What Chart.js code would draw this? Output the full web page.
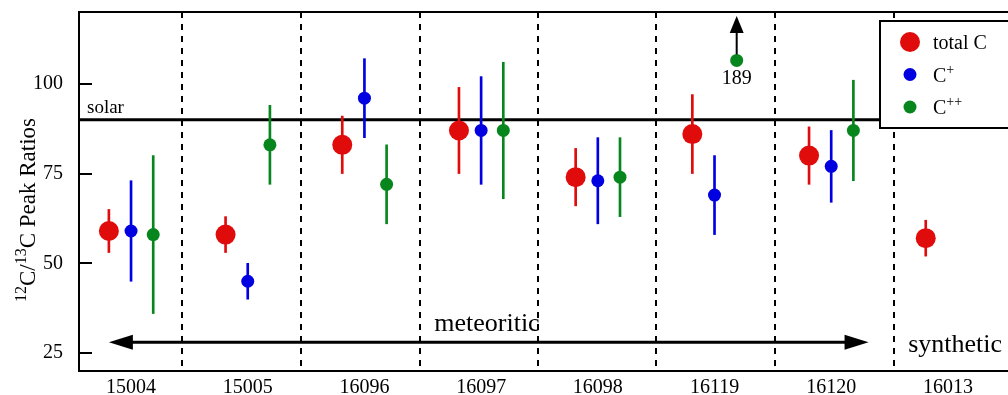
<!DOCTYPE html>
<html><head><meta charset="utf-8">
<script src="https://cdn.jsdelivr.net/npm/chart.js@4/dist/chart.umd.min.js"></script>
<style>html,body{margin:0;padding:0;background:#fff;overflow:hidden}canvas{display:block}</style>
</head><body>
<canvas id="c" width="1008" height="395"></canvas>
<script>
// ---- data ----
const categories = ['15004','15005','16096','16097','16098','16119','16120','16013'];
const yTicks = [25, 50, 75, 100];
const solarRatio = 90;
// dividers between samples, in category units
const dividers = [0.44, 1.46, 2.48, 3.49, 4.5, 5.52, 6.54];

const totalC     = [59, 58, 83, 87, 74, 86, 80, 57];
const totalCLow  = [53, 53, 75, 75, 66, 75, 72, 52];
const totalCHigh = [65, 63, 91, 99, 82, 97, 88, 62];

const cPlus      = [59, 45, 96, 87, 73, 69, 77, null];
const cPlusLow   = [45, 40, 85, 72, 61, 58, 67, null];
const cPlusHigh  = [73, 50, 107, 102, 85, 80, 87, null];

const cPlusPlus     = [58, 83, 72, 87, 74, 106.5, 87, null];
const cPlusPlusLow  = [36, 72, 61, 68, 63, null, 73, null];
const cPlusPlusHigh = [80, 94, 83, 106, 85, null, 101, null];
// off-scale C++ value for 16119 (drawn at the top with an arrow)
const offScaleIndex = 5;
const offScaleValue = 189;

const meteoriticRange = [-0.19, 6.32];
const meteoriticY = 28;

// ---- styling ----
const RED = '#e00c0c', BLUE = '#0000e0', GREEN = '#07861d';
const SERIF = '"Liberation Serif", "Times New Roman", serif';
const series = [
  {name:'total C', vals: totalC, lo: totalCLow, hi: totalCHigh, color: RED, dx: -0.19, r: 10},
  {name:'C+', vals: cPlus, lo: cPlusLow, hi: cPlusHigh, color: BLUE, dx: 0, r: 6.5},
  {name:'C++', vals: cPlusPlus, lo: cPlusPlusLow, hi: cPlusPlusHigh, color: GREEN, dx: 0.19, r: 6.5},
];

const datasets = [];
series.forEach(s => {
  datasets.push({
    type: 'bar', label: s.name + ' err', order: 2,
    data: s.vals.map((v, i) => (s.lo[i] == null ? null : {x: i + s.dx, y: [s.lo[i], s.hi[i]]})).filter(d => d),
    backgroundColor: s.color, borderWidth: 0, barThickness: 2, grouped: false
  });
  datasets.push({
    type: 'scatter', label: s.name, order: 0,
    data: s.vals.map((v, i) => (v == null ? null : {x: i + s.dx, y: v})).filter(d => d),
    backgroundColor: s.color, borderWidth: 0, pointRadius: s.r, pointHoverRadius: s.r
  });
});

function arrowHead(ctx, tx, ty, dirx, diry, len, half) {
  const bx = tx - dirx * len, by = ty - diry * len;
  ctx.beginPath();
  ctx.moveTo(tx, ty);
  ctx.lineTo(bx - diry * half, by + dirx * half);
  ctx.lineTo(bx + diry * half, by - dirx * half);
  ctx.closePath();
  ctx.fill();
}

function drawRich(ctx, parts, x, y, align) {
  let w = 0;
  parts.forEach(p => { ctx.font = p.font; w += ctx.measureText(p.t).width; });
  let cx = align === 'center' ? x - w / 2 : x;
  parts.forEach(p => {
    ctx.font = p.font;
    ctx.fillText(p.t, cx, y + (p.dy || 0));
    cx += ctx.measureText(p.t).width;
  });
}

const deco = {
  id: 'deco',
  beforeDatasetsDraw(chart) {
    const {ctx, chartArea: a, scales: {x, y}} = chart;
    ctx.save();
    ctx.strokeStyle = '#000'; ctx.fillStyle = '#000';
    // dashed dividers
    ctx.lineWidth = 2; ctx.setLineDash([6, 6]);
    dividers.forEach(v => {
      const px = Math.round(x.getPixelForValue(v));
      ctx.beginPath(); ctx.moveTo(px, a.top); ctx.lineTo(px, a.bottom); ctx.stroke();
    });
    ctx.setLineDash([]);
    // top frame line
    ctx.lineWidth = 2;
    ctx.beginPath(); ctx.moveTo(a.left, a.top); ctx.lineTo(a.right, a.top); ctx.stroke();
    // inward y ticks
    yTicks.forEach(v => {
      const py = Math.round(y.getPixelForValue(v));
      ctx.beginPath(); ctx.moveTo(a.left, py); ctx.lineTo(a.left + 13, py); ctx.stroke();
    });
    // solar line
    const sy = y.getPixelForValue(solarRatio);
    ctx.lineWidth = 3;
    ctx.beginPath(); ctx.moveTo(a.left, sy); ctx.lineTo(a.right, sy); ctx.stroke();
    ctx.font = '19px ' + SERIF; ctx.textAlign = 'left'; ctx.textBaseline = 'alphabetic';
    ctx.fillText('solar', a.left + 8, sy - 7);
    // meteoritic arrow
    const my = y.getPixelForValue(meteoriticY);
    const x0 = x.getPixelForValue(meteoriticRange[0]), x1 = x.getPixelForValue(meteoriticRange[1]);
    ctx.lineWidth = 3;
    ctx.beginPath(); ctx.moveTo(x0 + 10, my); ctx.lineTo(x1 - 10, my); ctx.stroke();
    arrowHead(ctx, x0, my, -1, 0, 24, 7.5);
    arrowHead(ctx, x1, my, 1, 0, 24, 7.5);
    ctx.font = '26px ' + SERIF; ctx.textAlign = 'center';
    ctx.fillText('meteoritic', x.getPixelForValue(3.05), y.getPixelForValue(31.2));
    ctx.textAlign = 'left';
    ctx.fillText('synthetic', x.getPixelForValue(6.66), y.getPixelForValue(25.3));
    ctx.restore();
  },
  afterDatasetsDraw(chart) {
    const {ctx, chartArea: a, scales: {x, y}} = chart;
    ctx.save();
    ctx.fillStyle = '#000'; ctx.strokeStyle = '#000';
    // off-scale arrow
    const ox = x.getPixelForValue(offScaleIndex + 0.19);
    const oy = y.getPixelForValue(cPlusPlus[offScaleIndex]);
    const tipY = a.top + 4;
    ctx.lineWidth = 2;
    ctx.beginPath(); ctx.moveTo(ox, oy - 6); ctx.lineTo(ox, tipY + 12); ctx.stroke();
    arrowHead(ctx, ox, tipY, 0, -1, 17, 7);
    ctx.font = '20px ' + SERIF; ctx.textAlign = 'center'; ctx.textBaseline = 'alphabetic';
    ctx.fillText(String(offScaleValue), ox, oy + 24);

    // legend box
    const lx = a.right - 128, ly = a.top + 9;
    ctx.fillStyle = '#fff';
    ctx.fillRect(lx, ly, 140, 107);
    ctx.lineWidth = 2;
    ctx.strokeRect(lx, ly, 140, 107);
    const rows = [
      {c: RED, r: 10, parts: [{t: 'total C', font: '20px ' + SERIF}]},
      {c: BLUE, r: 6.5, parts: [{t: 'C', font: '20px ' + SERIF}, {t: '+', font: '14px ' + SERIF, dy: -8}]},
      {c: GREEN, r: 6.5, parts: [{t: 'C', font: '20px ' + SERIF}, {t: '++', font: '14px ' + SERIF, dy: -8}]},
    ];
    rows.forEach((rw, i) => {
      const cy = ly + 21 + i * 32.5;
      ctx.fillStyle = rw.c;
      ctx.beginPath(); ctx.arc(lx + 30, cy, rw.r, 0, Math.PI * 2); ctx.fill();
      ctx.fillStyle = '#000'; ctx.textAlign = 'left';
      drawRich(ctx, rw.parts, lx + 53, cy + 7, 'left');
    });

    // y-axis title with superscripts
    ctx.save();
    ctx.translate(35, 210);
    ctx.rotate(-Math.PI / 2);
    ctx.fillStyle = '#000'; ctx.textAlign = 'left';
    drawRich(ctx, [
      {t: '12', font: '16px ' + SERIF, dy: -9},
      {t: 'C/', font: '23px ' + SERIF},
      {t: '13', font: '16px ' + SERIF, dy: -9},
      {t: 'C Peak Ratios', font: '23px ' + SERIF},
    ], 0, 0, 'center');
    ctx.restore();
    ctx.restore();
  }
};

new Chart(document.getElementById('c'), {
  type: 'scatter',
  data: {datasets},
  options: {
    responsive: false, animation: false,
    layout: {autoPadding: false, padding: {top: 12, right: 0, left: 0, bottom: 0}},
    plugins: {legend: {display: false}, tooltip: {enabled: false}},
    scales: {
      x: {
        type: 'linear', min: -0.446, max: 7.515, offset: false,
        afterBuildTicks: s => { s.ticks = categories.map((_, i) => ({value: i})); },
        afterFit: s => { s.height = 24; s.paddingLeft = 0; s.paddingRight = 0; s.paddingTop = 0; s.paddingBottom = 0; },
        grid: {drawOnChartArea: false, drawTicks: false, offset: false},
        border: {display: true, color: '#000', width: 2},
        ticks: {autoSkip: false, maxRotation: 0, padding: 5, color: '#000',
          font: {family: SERIF, size: 20},
          callback: (v, i) => categories[i]}
      },
      y: {
        type: 'linear', min: 20, max: 120,
        afterBuildTicks: s => { s.ticks = yTicks.map(v => ({value: v})); },
        afterFit: s => { s.width = 79; s.paddingLeft = 0; s.paddingRight = 0; s.paddingTop = 0; s.paddingBottom = 0; },
        grid: {drawOnChartArea: false, drawTicks: false},
        border: {display: true, color: '#000', width: 2},
        ticks: {padding: 16, color: '#000', font: {family: SERIF, size: 20}}
      }
    }
  },
  plugins: [deco]
});
</script>
</body></html>
